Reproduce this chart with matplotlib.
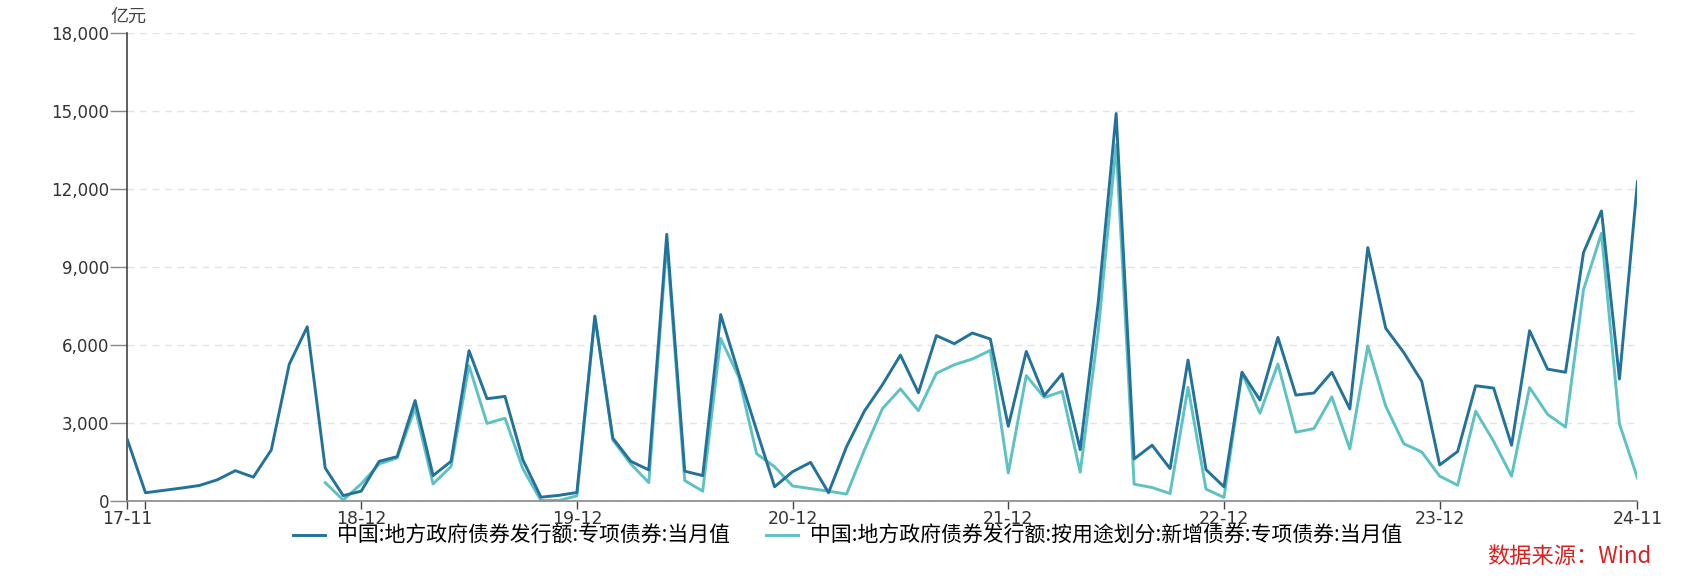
import numpy as np
import pandas as pd
import matplotlib
matplotlib.use("Agg")
import matplotlib.pyplot as plt
from matplotlib.ticker import FuncFormatter, FixedLocator

plt.rcParams['font.family'] = ['Noto Sans CJK SC', 'DejaVu Sans']

# 月份：17-11 至 24-11
months = pd.date_range('2017-11-01', periods=85, freq='MS')

# 中国:地方政府债券发行额:专项债券:当月值（亿元）
special_total = [
    2330, 300, 390, 480, 580, 800, 1150, 900, 1950, 5250, 6690, 1250,
    190, 360, 1510, 1690, 3850, 960, 1510, 5770, 3920, 4010, 1560, 130,
    200, 310, 7100, 2400, 1510, 1180, 10250, 1130, 960, 7160, 4900, 2700,
    530, 1110, 1470, 300, 2070, 3450, 4460, 5600, 4150, 6350, 6040, 6450,
    6220, 2860, 5740, 4040, 4880, 1960, 7600, 14900, 1600, 2130, 1230, 5410,
    1190, 530, 4940, 3870, 6280, 4060, 4140, 4940, 3530, 9740, 6630, 5700,
    4590, 1370, 1890, 4420, 4330, 2130, 6540, 5060, 4940, 9550, 11150, 4680,
    12270,
]

# 中国:地方政府债券发行额:按用途划分:新增债券:专项债券:当月值（亿元），18-10 起
special_new = [np.nan] * 11 + [
    690, 20, 640, 1410, 1640, 3560, 640, 1310, 5190, 2970, 3170, 1220,
    0, 0, 180, 7080, 2330, 1410, 690, 9950, 770, 360, 6240, 4770,
    1800, 1300, 560, 460, 360, 250, 1950, 3540, 4300, 3460, 4900, 5230,
    5450, 5780, 1060, 4810, 3970, 4200, 1090, 6500, 13700, 630, 500, 270,
    4360, 440, 120, 4900, 3360, 5260, 2630, 2770, 3990, 1990, 5950, 3630,
    2190, 1870, 940, 590, 3440, 2280, 940, 4350, 3320, 2830, 8120, 10290,
    2950, 870,
]

label_total = '中国:地方政府债券发行额:专项债券:当月值'
label_new = '中国:地方政府债券发行额:按用途划分:新增债券:专项债券:当月值'
tick_months = ['2017-11', '2018-12', '2019-12', '2020-12', '2021-12',
               '2022-12', '2023-12', '2024-11']

x = np.arange(len(months))

fig = plt.figure(figsize=(16.82, 5.8), dpi=100)
ax = fig.add_axes([0.0758, 0.137, 0.8977, 0.806])

ax.plot(x, special_total, color='#23729c', lw=2.1, label=label_total, zorder=3)
ax.plot(x, special_new, color='#5ec1c2', lw=2.1, label=label_new, zorder=2)

ax.set_xlim(0, len(months) - 1)
ax.set_ylim(0, 18000)
ax.set_yticks(np.arange(0, 18001, 3000))
ax.yaxis.set_major_formatter(FuncFormatter(lambda v, p: f'{int(v):,}'))

tick_pos = [list(months.strftime('%Y-%m')).index(m) for m in tick_months]
ax.set_xticks(tick_pos)
ax.set_xticklabels([months[i].strftime('%y-%m') for i in tick_pos])
ax.xaxis.set_minor_locator(FixedLocator([1]))

ax.grid(axis='y', color='#e3e3e3', ls=(0, (5, 4)), lw=1)
ax.set_axisbelow(True)
for s in ['top', 'right']:
    ax.spines[s].set_visible(False)
ax.spines['left'].set_color('#444444')
ax.spines['left'].set_linewidth(1.2)
ax.spines['bottom'].set_color('#888888')
ax.spines['bottom'].set_linewidth(1.2)

ax.tick_params(axis='y', length=12, width=1, color='#888888', pad=1,
               labelsize=12, labelcolor='#333333')
ax.tick_params(axis='x', which='major', length=6, width=1, color='#444444',
               pad=0.5, labelsize=12.5, labelcolor='#333333')
ax.tick_params(axis='x', which='minor', length=6, width=1, color='#444444')
for t in ax.get_xticklabels() + ax.get_yticklabels():
    t.set_fontfamily('DejaVu Sans')

fig.text(0.0765, 0.972, '亿元', ha='center', va='center', fontsize=13,
         color='#444444')

fig.legend(loc='center', bbox_to_anchor=(0.504, 0.076), ncol=2, frameon=False,
           fontsize=15, handlelength=1.55, columnspacing=1.7, handletextpad=0.57)

fig.text(0.982, 0.04, '数据来源：Wind', ha='right', va='center', fontsize=16,
         color='#d9221f')

fig.savefig('out.png', dpi=100)
